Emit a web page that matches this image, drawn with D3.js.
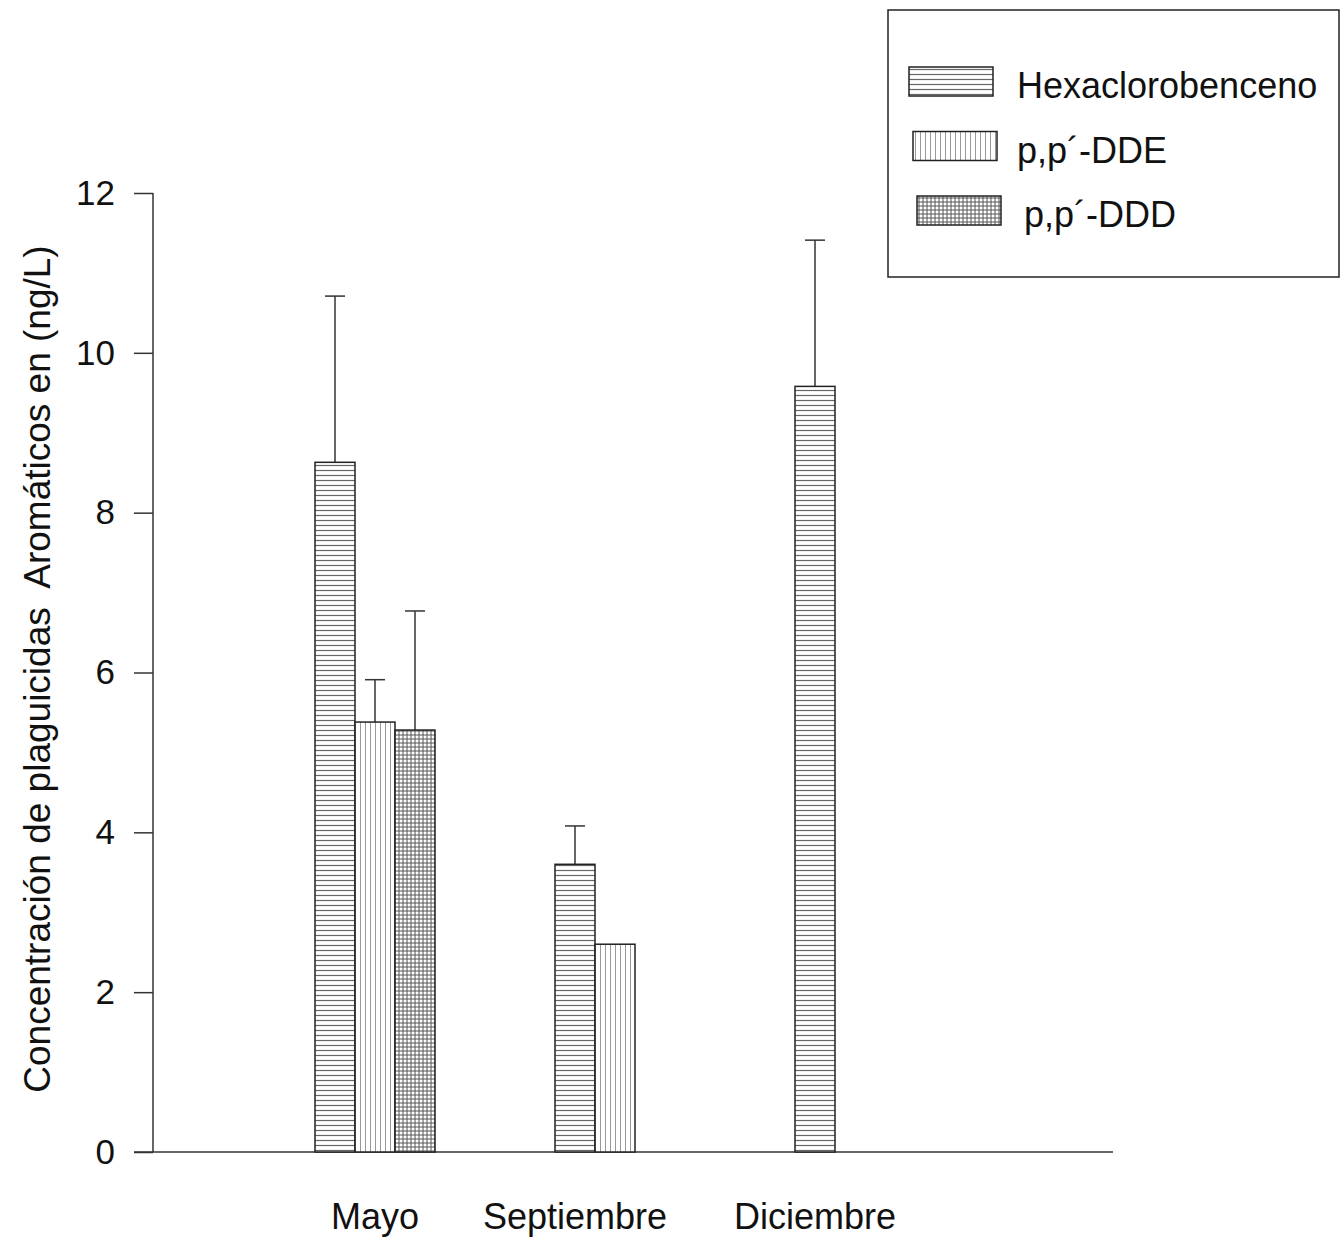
<!DOCTYPE html>
<html>
<head>
<meta charset="utf-8">
<script src="https://cdn.jsdelivr.net/npm/d3@7"></script>
<style>
  body { margin: 0; background: #fff; }
  text { font-family: "Liberation Sans", Arial, sans-serif; fill: #111; }
</style>
</head>
<body>
<script>
// data
var months = ["Mayo", "Septiembre", "Diciembre"];
var compounds = ["Hexaclorobenceno", "p,p\u00b4-DDE", "p,p\u00b4-DDD"];
var hcb = [8.63, 3.60, 9.58];
var hcbErr = [2.08, 0.48, 1.83];
var dde = [5.38, 2.60, null];
var ddeErr = [0.53, null, null];
var ddd = [5.28, null, null];
var dddErr = [1.49, null, null];
var yTicks = [0, 2, 4, 6, 8, 10, 12];

var window_w = 1341, window_h = 1239;
var margin = {left: 153, top: 193, right: 228, bottom: 87};
var frame_w = window_w - margin.left - margin.right;
var frame_h = window_h - margin.top - margin.bottom;

var values = [hcb, dde, ddd];
var errs = [hcbErr, ddeErr, dddErr];
var patIds = ["pHcb", "pDde", "pDdd"];

var data = [];
months.forEach(function (m, i) {
  compounds.forEach(function (c, j) {
    if (values[j][i] != null) {
      data.push({month: m, comp: c, v: values[j][i], e: errs[j][i], pat: patIds[j]});
    }
  });
});

var yScale = d3.scaleLinear().domain([0, 12]).range([frame_h, 0]);
// groups 240px apart, each 120px wide
var xScale = d3.scaleBand().domain(months).range([42, 882]).paddingInner(0.5).paddingOuter(0.5);
var xInner = d3.scaleBand().domain(compounds).range([0, xScale.bandwidth()]);

var svg = d3.select("body").append("svg").attr("width", window_w).attr("height", window_h);

// hatch patterns
var defs = svg.append("defs");
var p1 = defs.append("pattern").attr("id", "pHcb").attr("patternUnits", "userSpaceOnUse")
  .attr("width", 8).attr("height", 5);
p1.append("rect").attr("width", 8).attr("height", 5).attr("fill", "#fff");
p1.append("line").attr("x1", 0).attr("x2", 8).attr("y1", 2.5).attr("y2", 2.5)
  .attr("stroke", "#666").attr("stroke-width", 1.2);

var p2 = defs.append("pattern").attr("id", "pDde").attr("patternUnits", "userSpaceOnUse")
  .attr("width", 5).attr("height", 8);
p2.append("rect").attr("width", 5).attr("height", 8).attr("fill", "#fff");
p2.append("line").attr("x1", 2.5).attr("x2", 2.5).attr("y1", 0).attr("y2", 8)
  .attr("stroke", "#999").attr("stroke-width", 1);

var p3 = defs.append("pattern").attr("id", "pDdd").attr("patternUnits", "userSpaceOnUse")
  .attr("width", 4).attr("height", 4);
p3.append("rect").attr("width", 4).attr("height", 4).attr("fill", "#fff");
p3.append("line").attr("x1", 0).attr("x2", 4).attr("y1", 2).attr("y2", 2)
  .attr("stroke", "#555").attr("stroke-width", 1);
p3.append("line").attr("x1", 2).attr("x2", 2).attr("y1", 0).attr("y2", 4)
  .attr("stroke", "#555").attr("stroke-width", 1);

var g = svg.append("g").attr("transform", "translate(" + margin.left + "," + margin.top + ")");

// y axis
var yAxis = d3.axisLeft(yScale).tickValues(yTicks).tickSize(19).tickPadding(19);
var yAxisG = g.append("g").attr("class", "y axis").call(yAxis);
yAxisG.select(".domain").attr("d", "M0," + frame_h + "V0").attr("stroke", "#333").attr("stroke-width", 1.5);
yAxisG.selectAll(".tick line").attr("stroke", "#333").attr("stroke-width", 1.5);
yAxisG.selectAll(".tick text").style("font-size", "35px").attr("font-family", null);

// x axis line (no ticks)
g.append("line")
  .attr("x1", -19).attr("x2", frame_w)
  .attr("y1", frame_h).attr("y2", frame_h)
  .attr("stroke", "#333").attr("stroke-width", 1.5);

// error bars (upper only)
var errData = data.filter(function (d) { return d.e != null; });
var eb = g.selectAll(".err").data(errData).enter().append("g").attr("class", "err");
eb.append("line")
  .attr("x1", function (d) { return xScale(d.month) + xInner(d.comp) + xInner.bandwidth() / 2; })
  .attr("x2", function (d) { return xScale(d.month) + xInner(d.comp) + xInner.bandwidth() / 2; })
  .attr("y1", function (d) { return yScale(d.v); })
  .attr("y2", function (d) { return yScale(d.v + d.e); })
  .attr("stroke", "#333").attr("stroke-width", 1.5);
eb.append("line")
  .attr("x1", function (d) { return xScale(d.month) + xInner(d.comp) + xInner.bandwidth() / 2 - 10; })
  .attr("x2", function (d) { return xScale(d.month) + xInner(d.comp) + xInner.bandwidth() / 2 + 10; })
  .attr("y1", function (d) { return yScale(d.v + d.e); })
  .attr("y2", function (d) { return yScale(d.v + d.e); })
  .attr("stroke", "#333").attr("stroke-width", 1.5);

// bars
g.selectAll(".bar").data(data).enter().append("rect")
  .attr("class", "bar")
  .attr("x", function (d) { return xScale(d.month) + xInner(d.comp); })
  .attr("width", xInner.bandwidth())
  .attr("y", function (d) { return yScale(d.v); })
  .attr("height", function (d) { return frame_h - yScale(d.v); })
  .attr("fill", function (d) { return "url(#" + d.pat + ")"; })
  .attr("stroke", "#222").attr("stroke-width", 1.5);

// month labels, centred under the bars drawn
months.forEach(function (m) {
  var present = data.filter(function (d) { return d.month == m; });
  var x0 = d3.min(present, function (d) { return xScale(d.month) + xInner(d.comp); });
  var x1 = d3.max(present, function (d) { return xScale(d.month) + xInner(d.comp) + xInner.bandwidth(); });
  g.append("text")
    .attr("x", (x0 + x1) / 2 - (m == "Septiembre" ? 20 : 0))
    .attr("y", frame_h + 77)
    .style("text-anchor", "middle")
    .style("font-size", "36px")
    .text(m);
});

// y axis title
g.append("text")
  .attr("transform", "rotate(-90)")
  .attr("x", -476)
  .attr("y", 50 - margin.left)
  .style("text-anchor", "middle")
  .style("font-size", "37px")
  .text("Concentraci\u00f3n de plaguicidas\u00a0 Arom\u00e1ticos en (ng/L)");

// legend
var leg = svg.append("g").attr("transform", "translate(888,10)");
leg.append("rect").attr("width", 451).attr("height", 267)
  .attr("fill", "#fff").attr("stroke", "#222").attr("stroke-width", 1.5);
var legItems = leg.selectAll(".li").data(compounds).enter().append("g")
  .attr("transform", function (d, i) { return "translate(" + (21 + i * 4) + "," + (57 + i * 64.5) + ")"; });
legItems.append("rect").attr("width", 84).attr("height", 29)
  .attr("fill", function (d, i) { return "url(#" + patIds[i] + ")"; })
  .attr("stroke", "#222").attr("stroke-width", 1.5);
legItems.append("text")
  .attr("x", function (d, i) { return i == 0 ? 108 : (i == 1 ? 104 : 107); })
  .attr("y", 31)
  .style("font-size", "36px")
  .text(function (d) { return d; });
</script>
</body>
</html>
